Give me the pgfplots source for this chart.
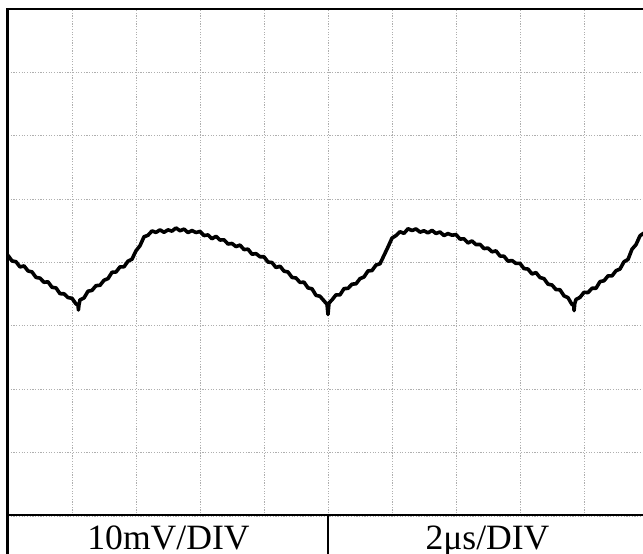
\documentclass[border=0pt]{standalone}
\usepackage{pgfplots}
\pgfplotsset{compat=1.18}
\usepackage{fontspec}
\setmainfont{Liberation Serif}
\definecolor{gridgray}{RGB}{175,175,175}
\begin{document}
\begin{tikzpicture}
\begin{axis}[
  at={(8bp,38bp)}, anchor=south west,
  scale only axis, width=640bp, height=507bp,
  xmin=0, xmax=20, ymin=-40, ymax=40,
  xtick={0,2,...,20}, ytick={-40,-30,...,40},
  xticklabels={}, yticklabels={},
  major tick length=0pt,
  axis line style={draw=none},
  grid=major,
  major grid style={gridgray, line width=0.9bp, dash pattern=on 1.2bp off 1.5bp},
  clip=true,
]
\addplot[black, line width=3.6bp, line join=round, line cap=round, mark=none] coordinates {
(0,1.12)(0.125,0.25)(0.25,0.12)(0.375,-0.70)(0.5,-0.54)(0.625,-1.33)(0.75,-1.49)(0.875,-2.35)
(1.0,-2.47)(1.125,-3.12)(1.25,-3.05)(1.375,-3.91)(1.5,-4.01)(1.625,-4.92)(1.75,-4.94)(1.875,-5.53)
(2.0,-5.66)(2.125,-6.53)(2.19,-6.7)(2.2,-7.5)(2.22,-6.6)
(2.25,-5.90)(2.375,-5.60)(2.5,-4.53)(2.625,-4.40)(2.75,-3.65)(2.875,-3.60)
(3.0,-2.80)(3.125,-2.54)(3.25,-1.55)(3.375,-1.50)(3.5,-0.69)(3.625,-0.68)(3.75,0.21)(3.875,0.53)
(4.0,1.85)(4.125,2.65)(4.25,4.05)(4.375,4.30)(4.5,4.98)(4.625,4.75)(4.75,5.15)(4.875,4.77)
(5.0,5.15)(5.125,4.95)(5.25,5.45)(5.375,5.01)(5.5,5.27)(5.625,4.72)(5.75,5.04)(5.875,4.73)
(6.0,4.90)(6.125,4.25)(6.25,4.35)(6.375,3.75)(6.5,4.13)(6.625,3.55)(6.75,3.58)(6.875,2.92)
(7.0,3.00)(7.125,2.51)(7.25,2.75)(7.375,2.04)(7.5,2.10)(7.625,1.31)(7.75,1.40)(7.875,0.91)
(8.0,0.90)(8.125,0.07)(8.25,-0.01)(8.375,-0.79)(8.5,-0.59)(8.625,-1.36)(8.75,-1.50)(8.875,-2.35)
(9.0,-2.45)(9.125,-3.14)(9.25,-3.11)(9.375,-4.01)(9.5,-4.15)(9.625,-5.18)(9.75,-5.33)(9.875,-6.05)
(9.97,-6.6)(10.0,-8.2)(10.03,-6.4)
(10.125,-5.90)(10.25,-5.10)(10.375,-5.11)(10.5,-4.12)(10.625,-4.08)(10.75,-3.42)(10.875,-3.36)
(11.0,-2.55)(11.125,-2.28)(11.25,-1.33)(11.375,-1.27)(11.5,-0.40)(11.625,-0.20)(11.75,1.12)(11.875,2.45)
(12.0,3.85)(12.125,4.25)(12.25,4.85)(12.375,4.60)(12.5,5.33)(12.625,5.04)(12.75,5.30)(12.875,4.79)
(13.0,5.00)(13.125,4.67)(13.25,5.07)(13.375,4.58)(13.5,4.82)(13.625,4.25)(13.75,4.56)(13.875,4.31)
(14.0,4.40)(14.125,3.70)(14.25,3.74)(14.375,3.08)(14.5,3.40)(14.625,2.82)(14.75,2.86)(14.875,2.20)
(15.0,2.27)(15.125,1.69)(15.25,1.83)(15.375,1.02)(15.5,0.99)(15.625,0.21)(15.75,0.31)(15.875,-0.15)
(16.0,-0.14)(16.125,-0.96)(16.25,-1.04)(16.375,-1.81)(16.5,-1.60)(16.625,-2.37)(16.75,-2.55)(16.875,-3.42)
(17.0,-3.55)(17.125,-4.28)(17.25,-4.30)(17.375,-5.26)(17.5,-5.55)(17.625,-6.63)
(17.68,-6.7)(17.69,-7.6)(17.71,-6.5)
(17.75,-5.83)(17.875,-5.50)(18.0,-4.70)(18.125,-4.75)(18.25,-4.07)(18.375,-4.07)(18.5,-3.02)(18.625,-2.88)
(18.75,-2.12)(18.875,-2.11)(19.0,-1.30)(19.125,-1.03)(19.25,0.12)(19.375,0.48)(19.5,2.10)(19.625,2.82)
(19.75,4.22)(19.875,4.65)(20.0,5.25)
};
\end{axis}
% frame
\draw[line width=1.5bp] (7.5bp,545bp) -- (650bp,545bp);
\draw[line width=2.5bp] (7.5bp,39bp) -- (650bp,39bp);
\draw[line width=3bp] (7.5bp,-2bp) -- (7.5bp,545.75bp);
\draw[line width=2bp] (327.5bp,-2bp) -- (327.5bp,39bp);
\node[anchor=base, inner sep=0pt, font=\fontsize{35.6bp}{40bp}\selectfont] at (168.5bp,5bp) {10mV/DIV};
\node[anchor=base, inner sep=0pt, font=\fontsize{35.6bp}{40bp}\selectfont] at (487.5bp,5bp) {2μs/DIV};
\pgfresetboundingbox
\useasboundingbox (0bp,0bp) rectangle (643bp,554bp);
\end{tikzpicture}
\end{document}
